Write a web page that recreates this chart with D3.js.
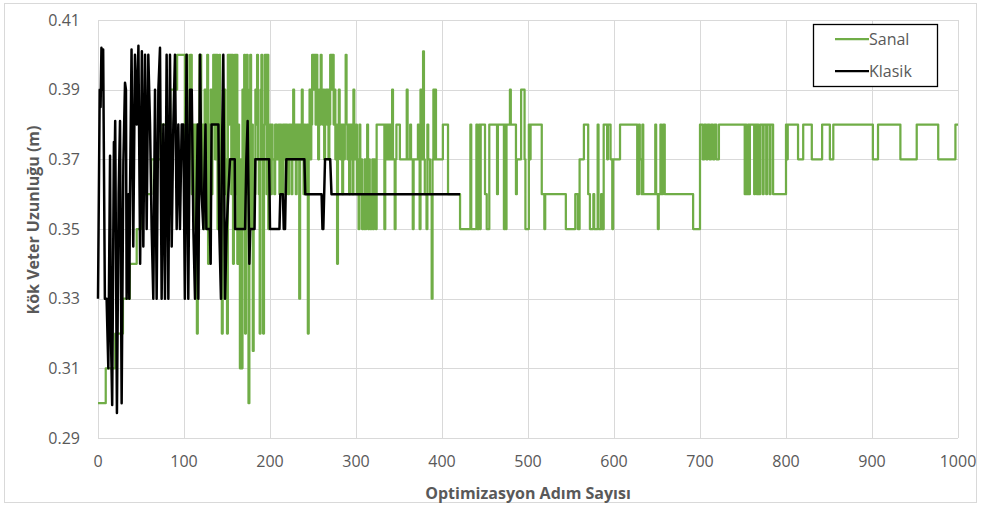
<!DOCTYPE html>
<html><head><meta charset="utf-8">
<script src="https://cdn.jsdelivr.net/npm/d3@7/dist/d3.min.js"></script>
<style>body{margin:0;background:#fff}svg{display:block}text{font-family:"Open Sans",sans-serif;fill:#595959}</style>
</head><body><svg id="c" width="981" height="509"></svg>
<script>
const xTicks=[0,100,200,300,400,500,600,700,800,900,1000];
const yTicks=[0.29,0.31,0.33,0.35,0.37,0.39,0.41];
const seriesNames=["Sanal","Klasik"];
const xTitle="Optimizasyon Adım Sayısı";
const yTitle="Kök Veter Uzunluğu (m)";
// Sanal: step series, [start step, value]
const sanal=[[0,.30],[9,.31],[20,.32],[29,.33],[37,.34],[45,.35],[50,.36],[62,.37],[73,.38],[84,.39],[92,.40],
[101,.36],[102,.40],[104,.37],[106,.38],[107,.40],[109,.36],[111,.38],[113,.35],[114,.38],[115,.32],[116,.37],[118,.40],[120,.36],[121,.38],[123,.35],[124,.39],[126,.37],[127,.40],[128,.34],[129,.38],[131,.39],[132,.36],[133,.38],[134,.40],[136,.37],[137,.40],[139,.35],[140,.39],[141,.40],[142,.37],[143,.35],[144,.32],[145,.38],[146,.39],[148,.36],[149,.37],[150,.32],[151,.40],[152,.38],[153,.40],[155,.36],[156,.40],[157,.34],[158,.37],[159,.40],[160,.36],[161,.40],[162,.34],[163,.38],[164,.36],[165,.31],[166,.37],[167,.31],[168,.39],[169,.35],[170,.40],[171,.32],[172,.38],[173,.40],[174,.36],[175,.30],[176,.39],[177,.40],[178,.35],[179,.38],[180,.315],[181,.37],[182,.36],[183,.39],[184,.38],[185,.40],[186,.37],[187,.36],[188,.32],[189,.39],[190,.40],[191,.37],[192,.32],[193,.38],[194,.40],[196,.36],[197,.40],[198,.35],[199,.37],[200,.38],[201,.36],[202,.38],[203,.37],[205,.36],[206,.38],[208,.37],[210,.38],[211,.36],[212,.38],[213,.37],[214,.36],[215,.38],[216,.37],[217,.38],[218,.36],[219,.38],[220,.37],[221,.36],[222,.38],[223,.37],[224,.38],[225,.36],[226,.38],[227,.39],[228,.37],[229,.38],[230,.36],[231,.38],[232,.37],[233,.38],[234,.33],[235,.38],[236,.37],[237,.39],[238,.38],[239,.36],[240,.38],[241,.37],[242,.36],[243,.38],[244,.32],[245,.38],[246,.39],[247,.37],[248,.38],[249,.40],[251,.39],[252,.40],[253,.38],[254,.40],[255,.38],[256,.37],[257,.39],[258,.38],[259,.40],[260,.39],[261,.38],[262,.39],[263,.37],[264,.38],[265,.39],[266,.38],[267,.39],[268,.37],[269,.38],[270,.40],[272,.39],[273,.40],[274,.38],[275,.39],[276,.37],[277,.38],[278,.34],[279,.37],[280,.39],[281,.38],[282,.37],[283,.38],[284,.36],[285,.38],[286,.37],[287,.38],[288,.40],[289,.38],[290,.37],[291,.38],[292,.36],[293,.38],[294,.37],[295,.38],[296,.36],[297,.39],[298,.37],[300,.38],[301,.36],[302,.37],[303,.35],[304,.38],[305,.36],[306,.37],[307,.35],[308,.36],[309,.35],[310,.37],[311,.35],[312,.36],[313,.38],[314,.35],[315,.37],[316,.35],[317,.36],[318,.35],[319,.37],[320,.35],[321,.37],[322,.36],[323,.35],[324,.38],[333,.35],[334,.38],[335,.37],[336,.38],[337,.37],[338,.38],[339,.37],[340,.38],[341,.37],[342,.39],[343,.37],[345,.35],[346,.37],[347,.38],[351,.37],[359,.39],[360,.37],[363,.38],[364,.37],[366,.35],[367,.37],[372,.38],[373,.37],[374,.35],[375,.39],[376,.37],[378,.401],[379,.37],[380,.36],[382,.35],[383,.38],[384,.37],[386,.36],[388,.33],[389,.37],[390,.39],[391,.37],[392,.39],[393,.37],[401,.38],[407,.36],[421,.35],[433,.38],[434,.35],[440,.38],[441,.35],[443,.38],[444,.35],[445,.38],[450,.36],[452,.35],[455,.38],[464,.36],[465,.38],[472,.35],[473,.38],[474,.35],[475,.38],[479,.39],[480,.38],[486,.36],[487,.37],[492,.39],[496,.37],[497,.35],[501,.38],[502,.37],[503,.38],[516,.36],[519,.35],[520,.36],[544,.35],[555,.36],[558,.35],[560,.37],[565,.38],[570,.36],[572,.35],[576,.36],[577,.35],[581,.38],[582,.35],[585,.36],[586,.35],[588,.38],[592,.37],[593,.38],[596,.37],[598,.35],[599,.37],[607,.38],[627,.36],[629,.38],[630,.37],[632,.36],[633,.38],[634,.36],[648,.38],[649,.36],[651,.35],[652,.36],[654,.38],[655,.36],[657,.38],[659,.36],[692,.35],[700,.38],[703,.37],[705,.38],[707,.37],[709,.38],[711,.37],[713,.38],[715,.37],[717,.38],[719,.37],[722,.38],[752,.36],[753,.38],[754,.36],[756,.38],[757,.36],[758,.38],[763,.36],[764,.38],[766,.36],[767,.38],[768,.36],[770,.38],[773,.36],[774,.38],[777,.36],[778,.38],[781,.36],[782,.38],[785,.36],[800,.38],[801,.37],[802,.38],[814,.37],[820,.38],[830,.37],[842,.38],[851,.37],[855,.38],[901,.37],[907,.38],[933,.37],[952,.38],[977,.37],[997,.38],[1000,.38]];
// Klasik: line vertices [step, value]
const klasik=[[0,.33],[2,.39],[3,.385],[4,.402],[5,.39],[6,.4015],[8,.33],[10,.33],[12,.31],[14,.371],[15,.32],[16.5,.2995],[18.5,.375],[19.5,.372],[20,.381],[22,.2972],[24,.36],[25.6,.381],[27.5,.30],[29.5,.369],[31.4,.392],[32.5,.39],[33.3,.33],[35.4,.36],[36.4,.33],[37.2,.36],[39,.4015],[41,.345],[43,.40],[45,.38],[47,.4026],[49,.34],[51,.401],[52.7,.345],[54.7,.40],[56.6,.35],[58.5,.40],[60.5,.38],[62.4,.35],[64.3,.33],[66.3,.39],[68.2,.33],[70.2,.39],[72.1,.402],[74,.33],[76,.38],[77.9,.33],[79.8,.40],[81.8,.33],[83.7,.40],[85.7,.345],[87.6,.38],[89.5,.40],[91.5,.35],[93.4,.38],[95.3,.35],[97.3,.38],[99.2,.38],[101,.33],[103,.40],[105,.33],[107,.39],[109,.39],[110.9,.35],[112.8,.33],[116,.38],[116.7,.33],[118.6,.40],[120.5,.36],[122.5,.35],[125,.38],[126,.35],[130,.35],[131,.34],[132,.38],[140,.38],[141,.35],[143,.33],[144,.37],[145.7,.40],[147.7,.33],[149.6,.35],[151.5,.36],[153.5,.37],[159,.37],[159.5,.35],[171,.35],[172.5,.37],[174,.381],[176,.34],[177,.35],[182,.35],[183,.37],[199,.37],[200,.35],[211,.35],[212,.36],[215,.36],[216,.35],[217.5,.35],[219,.37],[240,.37],[241,.36],[260,.36],[261,.35],[262,.35],[264,.37],[270,.37],[271.5,.36],[421,.36]];
const colors={Sanal:"#70ad47",Klasik:"#000000"};

const svg=d3.select("#c");
const L=98,R=958,T=20,B=438;
const x=d3.scaleLinear().domain([0,1000]).range([L,R]);
const y=d3.scaleLinear().domain([0.29,0.41]).range([B,T]);

svg.append("rect").attr("x",4.5).attr("y",3.5).attr("width",972).attr("height",499).attr("fill","#fff").attr("stroke","#d9d9d9");

const g=svg.append("g");
g.selectAll(".hg").data(yTicks).join("line").attr("x1",L).attr("x2",R)
 .attr("y1",d=>Math.round(y(d))+0.5).attr("y2",d=>Math.round(y(d))+0.5).attr("stroke","#d9d9d9");
g.selectAll(".vg").data(xTicks).join("line").attr("y1",T).attr("y2",B)
 .attr("x1",d=>Math.round(x(d))+0.5).attr("x2",d=>Math.round(x(d))+0.5).attr("stroke","#d9d9d9");

const fmt=d3.format(".2f");
svg.selectAll(".yl").data(yTicks).join("text").attr("x",80).attr("y",d=>y(d)).attr("dy","0.36em")
 .attr("text-anchor","end").attr("font-size",16).text(d=>fmt(d));
svg.selectAll(".xl").data(xTicks).join("text").attr("x",d=>x(d)).attr("y",467)
 .attr("text-anchor","middle").attr("font-size",16).text(d=>d);

svg.append("text").attr("x",528).attr("y",499).attr("text-anchor","middle").attr("font-size",16).attr("font-weight","bold").text(xTitle);
svg.append("text").attr("transform","translate(39,220) rotate(-90)").attr("text-anchor","middle").attr("font-size",16).attr("font-weight","bold").text(yTitle);

const lineStep=d3.line().x(d=>x(d[0])).y(d=>y(d[1])).curve(d3.curveStepAfter);
const lineLin=d3.line().x(d=>x(d[0])).y(d=>y(d[1]));
svg.append("path").datum(sanal).attr("d",lineStep).attr("fill","none").attr("stroke",colors.Sanal).attr("stroke-width",2.25).attr("stroke-linejoin","round");
svg.append("path").datum(klasik).attr("d",lineLin).attr("fill","none").attr("stroke",colors.Klasik).attr("stroke-width",2.5).attr("stroke-linejoin","round");

const lg=svg.append("g");
lg.append("rect").attr("x",813.5).attr("y",24.5).attr("width",124).attr("height",62).attr("fill","#fff").attr("stroke","#000").attr("stroke-width",1.3);
seriesNames.forEach((n,i)=>{
  const yy=39+i*32;
  lg.append("line").attr("x1",835).attr("x2",869).attr("y1",yy).attr("y2",yy).attr("stroke",colors[n]).attr("stroke-width",2.25);
  lg.append("text").attr("x",869).attr("y",yy).attr("dy","0.36em").attr("font-size",16).text(n);
});
</script></body></html>
